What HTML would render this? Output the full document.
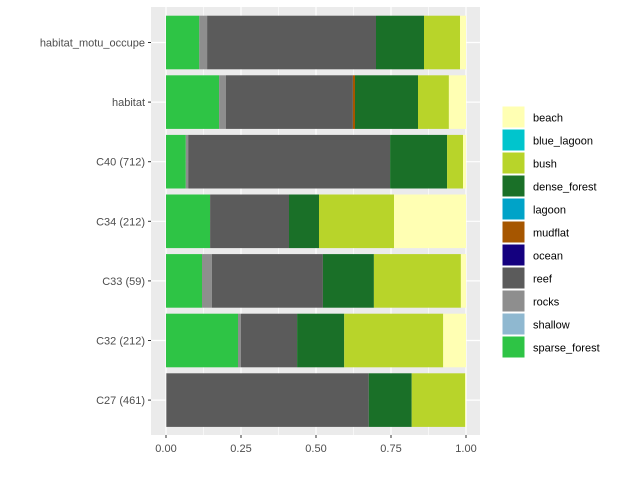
<!DOCTYPE html>
<html><head><meta charset="utf-8"><style>
body{margin:0;background:#fff;}
svg text{font-family:"Liberation Sans",Arial,sans-serif;}
</style></head><body>
<svg id="chart" width="625" height="481" xmlns="http://www.w3.org/2000/svg">
<rect x="151" y="7" width="329" height="428" fill="#EBEBEB"/>
<g id="grid"></g><g id="bars"></g><g id="axes"></g><g id="legend"></g>
</svg>
<script>
const categories = ["habitat_motu_occupe","habitat","C40 (712)","C34 (212)","C33 (59)","C32 (212)","C27 (461)"];
const classes = ["sparse_forest","shallow","rocks","reef","ocean","mudflat","lagoon","dense_forest","bush","blue_lagoon","beach"];
const legendOrder = ["beach","blue_lagoon","bush","dense_forest","lagoon","mudflat","ocean","reef","rocks","shallow","sparse_forest"];
const colors = {beach:"#FFFFB3",blue_lagoon:"#00C5CD",bush:"#B8D42A",dense_forest:"#1A7028",lagoon:"#00A3C8",mudflat:"#A65600",ocean:"#14007F",reef:"#5B5B5B",rocks:"#8E8E8E",shallow:"#8FB8D0",sparse_forest:"#2EC445"};
const sparseForest = [0.111,0.177,0.066,0.147,0.12,0.24,0];
const rocks        = [0.026,0.023,0.008,0,0.033,0.01,0.003];
const reef         = [0.563,0.423,0.673,0.263,0.37,0.187,0.673];
const mudflat      = [0,0.007,0,0,0,0,0];
const denseForest  = [0.16,0.21,0.19,0.1,0.17,0.157,0.143];
const bush         = [0.12,0.103,0.053,0.25,0.29,0.33,0.178];
const beach        = [0.02,0.057,0.01,0.24,0.017,0.076,0.003];
const xTicks = [0,0.25,0.5,0.75,1];
const xTickLabels = ["0.00","0.25","0.50","0.75","1.00"];
const series = {sparse_forest:sparseForest,rocks:rocks,reef:reef,mudflat:mudflat,dense_forest:denseForest,bush:bush,beach:beach};

const NS="http://www.w3.org/2000/svg";
const x0=166, xw=300, yTop=7, step=59.6;
const xs=v=>x0+v*xw;
const yc=i=>yTop+35.5+i*step;
function mk(tag,attrs,parent){const e=document.createElementNS(NS,tag);for(const k in attrs)e.setAttribute(k,attrs[k]);document.getElementById(parent).appendChild(e);return e;}

[0.125,0.375,0.625,0.875].forEach(v=>{
  const l=mk("line",{x1:xs(v),x2:xs(v),y1:7,y2:435,stroke:"#fff","stroke-width":0.6},"grid");
  
  
});
xTicks.forEach((v,i)=>{
  const l=mk("line",{x1:xs(v),x2:xs(v),y1:7,y2:435,stroke:"#fff","stroke-width":1.2},"grid");
  
  
  const t=mk("line",{x1:xs(v),x2:xs(v),y1:435,y2:438,stroke:"#333","stroke-width":1},"axes");
  
  
  const tx=mk("text",{x:xs(v),y:452,"text-anchor":"middle","font-size":11,fill:"#4D4D4D"},"axes");
  tx.textContent=xTickLabels[i];
  
  
});
categories.forEach((c,i)=>{
  const g=mk("line",{x1:151,x2:480,y1:yc(i),y2:yc(i),stroke:"#fff","stroke-width":1.2},"grid");
  
  
  const t=mk("line",{x1:148,x2:151,y1:yc(i),y2:yc(i),stroke:"#333","stroke-width":1},"axes");
  
  
  const tx=mk("text",{x:145,y:yc(i)+4,"text-anchor":"end","font-size":11,fill:"#4D4D4D"},"axes");
  tx.textContent=c;
  
  
  let acc=0;
  classes.forEach(k=>{
    const arr=series[k]; if(!arr) return;
    const v=arr[i]; if(!v) return;
    const r=mk("rect",{x:xs(acc),y:yc(i)-26.8,width:v*xw,height:53.6,fill:colors[k]},"bars");
    
    
    acc+=v;
  });
});
legendOrder.forEach((k,i)=>{
  const y=106+i*23;
  const r=mk("rect",{x:502,y:y,width:23,height:22,fill:colors[k],stroke:"#fff","stroke-width":1},"legend");
  
  
  const t=mk("text",{x:533,y:y+15.5,"font-size":11,fill:"#000"},"legend");
  t.textContent=k;
  
  
});
</script>
</body></html>
